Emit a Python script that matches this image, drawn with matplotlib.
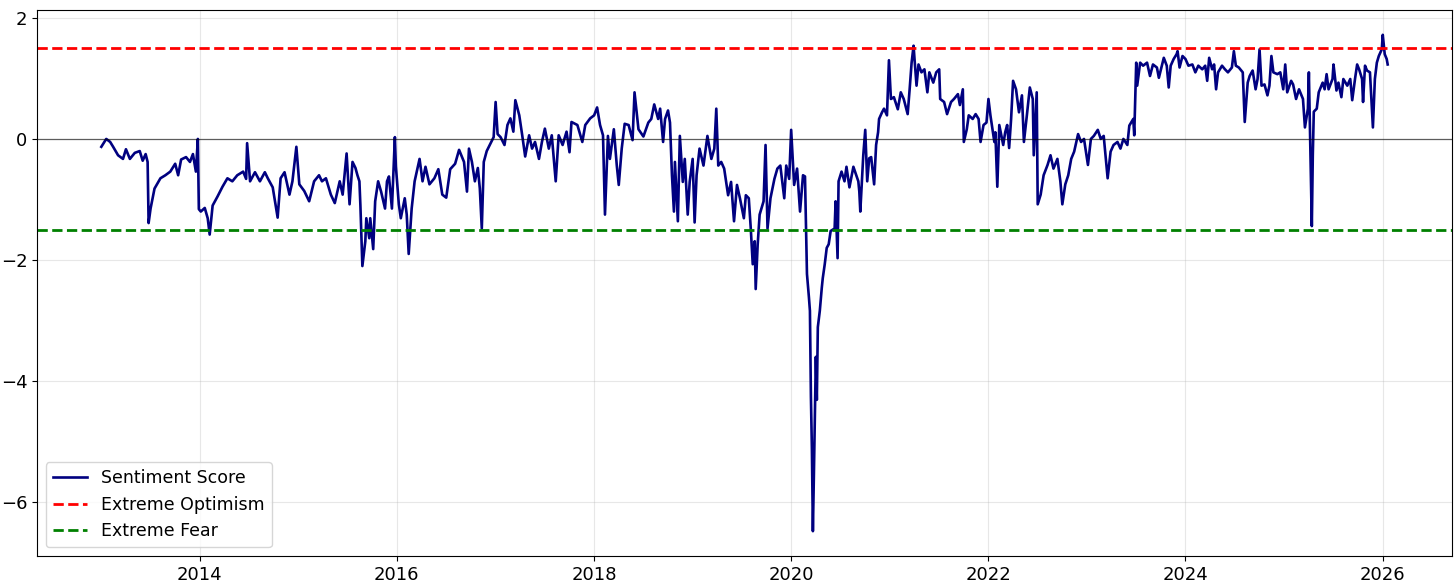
import numpy as np
import pandas as pd
import matplotlib
matplotlib.use("Agg")
import matplotlib.pyplot as plt

# decimal-year dates and sentiment scores
years = [
    2013.00, 2013.05, 2013.09, 2013.12, 2013.17, 2013.22, 2013.25, 2013.29, 2013.34, 2013.39,
    2013.42, 2013.45, 2013.47, 2013.48, 2013.50, 2013.54, 2013.60, 2013.65, 2013.70, 2013.75,
    2013.78, 2013.81, 2013.86, 2013.90, 2013.93, 2013.96, 2013.98, 2013.99, 2014.01, 2014.05,
    2014.08, 2014.10, 2014.13, 2014.18, 2014.23, 2014.28, 2014.33, 2014.38, 2014.44, 2014.47,
    2014.48, 2014.51, 2014.56, 2014.61, 2014.66, 2014.69, 2014.74, 2014.79, 2014.82, 2014.86,
    2014.91, 2014.94, 2014.98, 2015.01, 2015.06, 2015.11, 2015.16, 2015.21, 2015.24, 2015.28,
    2015.33, 2015.37, 2015.42, 2015.45, 2015.49, 2015.52, 2015.55, 2015.58, 2015.60, 2015.62,
    2015.63, 2015.65, 2015.68, 2015.69, 2015.72, 2015.73, 2015.76, 2015.78, 2015.81, 2015.84,
    2015.88, 2015.90, 2015.92, 2015.95, 2015.98, 2015.99, 2016.02, 2016.04, 2016.08, 2016.10,
    2016.12, 2016.15, 2016.18, 2016.21, 2016.23, 2016.26, 2016.29, 2016.33, 2016.38, 2016.42,
    2016.46, 2016.50, 2016.54, 2016.59, 2016.63, 2016.68, 2016.71, 2016.73, 2016.76, 2016.79,
    2016.82, 2016.84, 2016.86, 2016.88, 2016.91, 2016.94, 2016.98, 2017.00, 2017.02, 2017.05,
    2017.09, 2017.12, 2017.15, 2017.18, 2017.20, 2017.24, 2017.27, 2017.30, 2017.34, 2017.37,
    2017.40, 2017.44, 2017.47, 2017.50, 2017.54, 2017.57, 2017.61, 2017.64, 2017.68, 2017.72,
    2017.75, 2017.77, 2017.83, 2017.88, 2017.91, 2017.96, 2018.00, 2018.03, 2018.06, 2018.09,
    2018.11, 2018.14, 2018.16, 2018.20, 2018.23, 2018.25, 2018.28, 2018.31, 2018.35, 2018.39,
    2018.41, 2018.45, 2018.50, 2018.55, 2018.58, 2018.61, 2018.65, 2018.67, 2018.70, 2018.72,
    2018.75, 2018.77, 2018.79, 2018.81, 2018.82, 2018.85, 2018.87, 2018.90, 2018.92, 2018.95,
    2018.97, 2019.00, 2019.02, 2019.04, 2019.07, 2019.11, 2019.15, 2019.19, 2019.22, 2019.24,
    2019.26, 2019.29, 2019.32, 2019.36, 2019.39, 2019.42, 2019.45, 2019.48, 2019.52, 2019.54,
    2019.57, 2019.59, 2019.61, 2019.63, 2019.64, 2019.66, 2019.68, 2019.72, 2019.74, 2019.76,
    2019.79, 2019.83, 2019.86, 2019.89, 2019.93, 2019.95, 2019.98, 2020.00, 2020.03, 2020.06,
    2020.09, 2020.12, 2020.14, 2020.16, 2020.18, 2020.19, 2020.20, 2020.21, 2020.22, 2020.23,
    2020.25, 2020.26, 2020.27, 2020.29, 2020.31, 2020.32, 2020.34, 2020.36, 2020.38, 2020.40,
    2020.44, 2020.45, 2020.47, 2020.48, 2020.51, 2020.54, 2020.56, 2020.59, 2020.63, 2020.68,
    2020.69, 2020.70, 2020.73, 2020.75, 2020.77, 2020.79, 2020.81, 2020.84, 2020.86, 2020.88,
    2020.89, 2020.92, 2020.94, 2020.97, 2020.99, 2021.01, 2021.04, 2021.08, 2021.11, 2021.14,
    2021.18, 2021.20, 2021.22, 2021.24, 2021.25, 2021.27, 2021.29, 2021.32, 2021.35, 2021.38,
    2021.40, 2021.44, 2021.47, 2021.50, 2021.51, 2021.55, 2021.58, 2021.62, 2021.65, 2021.69,
    2021.71, 2021.74, 2021.75, 2021.78, 2021.80, 2021.84, 2021.87, 2021.90, 2021.92, 2021.95,
    2021.98, 2022.00, 2022.02, 2022.06, 2022.07, 2022.09, 2022.11, 2022.15, 2022.17, 2022.19,
    2022.21, 2022.23, 2022.25, 2022.28, 2022.31, 2022.34, 2022.36, 2022.39, 2022.42, 2022.45,
    2022.46, 2022.49, 2022.50, 2022.53, 2022.56, 2022.60, 2022.63, 2022.66, 2022.70, 2022.73,
    2022.75, 2022.78, 2022.81, 2022.84, 2022.87, 2022.91, 2022.94, 2022.97, 2023.01, 2023.04,
    2023.07, 2023.11, 2023.14, 2023.17, 2023.21, 2023.24, 2023.27, 2023.31, 2023.34, 2023.37,
    2023.41, 2023.43, 2023.47, 2023.48, 2023.50, 2023.51, 2023.54, 2023.57, 2023.61, 2023.64,
    2023.67, 2023.71, 2023.73, 2023.78, 2023.81, 2023.83, 2023.85, 2023.88, 2023.91, 2023.92,
    2023.94, 2023.97, 2024.00, 2024.03, 2024.07, 2024.10, 2024.13, 2024.17, 2024.20, 2024.22,
    2024.24, 2024.27, 2024.29, 2024.31, 2024.33, 2024.37, 2024.40, 2024.43, 2024.47, 2024.49,
    2024.51, 2024.54, 2024.58, 2024.60, 2024.63, 2024.65, 2024.68, 2024.71, 2024.73, 2024.75,
    2024.77, 2024.80, 2024.83, 2024.85, 2024.87, 2024.89, 2024.93, 2024.96, 2024.99, 2025.01,
    2025.03, 2025.07, 2025.09, 2025.12, 2025.15, 2025.19, 2025.21, 2025.24, 2025.25, 2025.28,
    2025.29, 2025.30, 2025.33, 2025.35, 2025.39, 2025.41, 2025.43, 2025.45, 2025.49, 2025.50,
    2025.53, 2025.55, 2025.58, 2025.60, 2025.64, 2025.67, 2025.69, 2025.72, 2025.74, 2025.76,
    2025.79, 2025.80, 2025.82, 2025.84, 2025.87, 2025.89, 2025.90, 2025.92, 2025.94, 2025.96,
    2025.99, 2026.00, 2026.02, 2026.04, 2026.05,
]

scores = [
    -0.13, 0.00, -0.05, -0.13, -0.27, -0.33, -0.17, -0.33, -0.23, -0.20,
    -0.36, -0.25, -0.38, -1.39, -1.15, -0.82, -0.65, -0.60, -0.54, -0.41,
    -0.60, -0.34, -0.30, -0.38, -0.25, -0.54, 0.00, -1.16, -1.20, -1.14,
    -1.31, -1.58, -1.10, -0.95, -0.79, -0.65, -0.70, -0.60, -0.54, -0.66,
    -0.07, -0.70, -0.55, -0.70, -0.55, -0.65, -0.80, -1.30, -0.65, -0.55,
    -0.92, -0.70, -0.13, -0.75, -0.86, -1.03, -0.70, -0.60, -0.70, -0.65,
    -0.92, -1.06, -0.70, -0.92, -0.24, -1.08, -0.38, -0.48, -0.60, -0.70,
    -1.10, -2.10, -1.69, -1.31, -1.64, -1.31, -1.82, -1.03, -0.70, -0.87,
    -1.15, -0.70, -0.62, -1.15, 0.03, -0.45, -1.08, -1.31, -0.98, -1.25,
    -1.90, -1.15, -0.70, -0.48, -0.33, -0.70, -0.46, -0.75, -0.65, -0.50,
    -0.92, -0.97, -0.50, -0.41, -0.18, -0.38, -0.87, -0.16, -0.38, -0.70,
    -0.48, -0.82, -1.48, -0.38, -0.20, -0.10, 0.03, 0.61, 0.08, 0.03,
    -0.10, 0.23, 0.34, 0.12, 0.64, 0.39, 0.06, -0.29, 0.06, -0.16,
    -0.05, -0.33, -0.05, 0.17, -0.16, 0.06, -0.70, 0.06, -0.10, 0.12,
    -0.22, 0.28, 0.23, -0.05, 0.23, 0.34, 0.39, 0.52, 0.23, 0.06,
    -1.25, 0.05, -0.33, 0.16, -0.44, -0.76, -0.16, 0.25, 0.23, -0.02,
    0.77, 0.16, 0.04, 0.27, 0.33, 0.57, 0.33, 0.50, -0.05, 0.33,
    0.47, 0.27, -0.60, -1.20, -0.38, -1.36, 0.05, -0.71, -0.33, -1.25,
    -0.71, -0.33, -1.38, -0.60, -0.16, -0.44, 0.05, -0.33, -0.16, 0.50,
    -0.44, -0.38, -0.49, -0.93, -0.71, -1.36, -0.76, -0.98, -1.31, -0.93,
    -0.98, -1.48, -2.07, -1.69, -2.48, -1.75, -1.25, -1.03, -0.10, -1.48,
    -0.98, -0.66, -0.49, -0.44, -0.98, -0.44, -0.66, 0.15, -0.76, -0.49,
    -1.20, -0.60, -0.62, -2.23, -2.62, -2.84, -4.26, -5.13, -6.48, -5.57,
    -3.60, -4.31, -3.11, -2.84, -2.46, -2.30, -2.07, -1.80, -1.74, -1.52,
    -1.48, -1.03, -1.97, -0.70, -0.54, -0.70, -0.46, -0.80, -0.46, -0.70,
    -0.87, -1.20, -0.27, 0.15, -0.70, -0.32, -0.30, -0.75, -0.10, 0.11,
    0.33, 0.44, 0.50, 0.39, 1.30, 0.66, 0.69, 0.49, 0.77, 0.66,
    0.41, 0.82, 1.26, 1.54, 1.31, 0.88, 1.23, 1.10, 1.15, 0.77,
    1.10, 0.93, 1.10, 1.15, 0.66, 0.61, 0.41, 0.61, 0.66, 0.74,
    0.56, 0.82, -0.05, 0.16, 0.39, 0.33, 0.41, 0.33, -0.05, 0.23,
    0.27, 0.66, 0.39, -0.05, 0.11, -0.79, 0.23, -0.10, 0.11, 0.23,
    -0.15, 0.33, 0.96, 0.82, 0.44, 0.72, -0.05, 0.39, 0.85, 0.66,
    -0.27, 0.77, -1.08, -0.92, -0.60, -0.43, -0.27, -0.49, -0.33, -0.70,
    -1.08, -0.75, -0.60, -0.33, -0.21, 0.08, -0.05, 0.00, -0.43, 0.00,
    0.05, 0.15, 0.00, 0.05, -0.65, -0.21, -0.10, -0.05, -0.16, 0.00,
    -0.10, 0.22, 0.33, 0.06, 1.26, 0.88, 1.26, 1.21, 1.26, 1.04,
    1.23, 1.18, 1.01, 1.34, 1.21, 0.85, 1.21, 1.32, 1.40, 1.45,
    1.18, 1.37, 1.32, 1.21, 1.23, 1.10, 1.21, 1.15, 1.21, 0.96,
    1.34, 1.15, 1.23, 0.82, 1.10, 1.21, 1.15, 1.10, 1.18, 1.45,
    1.21, 1.18, 1.10, 0.28, 0.93, 1.04, 1.13, 0.82, 0.99, 1.48,
    0.88, 0.90, 0.72, 0.88, 1.37, 1.10, 1.07, 1.10, 0.82, 1.23,
    0.77, 0.96, 0.90, 0.66, 0.82, 0.66, 0.19, 0.50, 1.10, -1.44,
    -0.26, 0.45, 0.50, 0.77, 0.93, 0.82, 1.07, 0.82, 0.99, 1.23,
    0.80, 0.93, 0.69, 0.99, 0.88, 0.99, 0.64, 1.01, 1.23, 1.15,
    0.99, 0.61, 1.21, 1.13, 1.10, 0.49, 0.19, 0.99, 1.26, 1.37,
    1.48, 1.72, 1.40, 1.32, 1.23,
]

optimism_level = 1.5
fear_level = -1.5


def to_datetime(y):
    yr = int(np.floor(y))
    start = pd.Timestamp(year=yr, month=1, day=1)
    end = pd.Timestamp(year=yr + 1, month=1, day=1)
    return start + (end - start) * (y - yr)


dates = [to_datetime(y) for y in years]

fig = plt.figure(figsize=(14.56, 5.86), dpi=100)
ax = fig.add_axes([37 / 1456, 1 - 556 / 586, (1452 - 37) / 1456, (556 - 10) / 586])

ax.plot(dates, scores, color="#000080", linewidth=1.9, label="Sentiment Score")
ax.axhline(optimism_level, color="red", linestyle="--", linewidth=2.0, label="Extreme Optimism")
ax.axhline(fear_level, color="green", linestyle="--", linewidth=2.0, label="Extreme Fear")
ax.axhline(0, color="black", linewidth=0.9, alpha=0.6)

ax.grid(True, alpha=0.3)
ax.tick_params(labelsize=13)
ax.legend(loc="lower left", fontsize=12.5)

fig.savefig("out.png", dpi=100)
